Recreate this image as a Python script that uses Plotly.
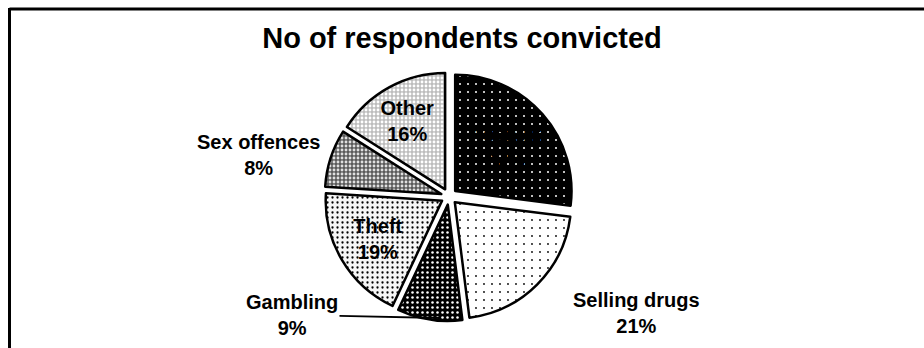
import plotly.graph_objects as go

labels = ["Assault", "Selling drugs", "Gambling", "Theft", "Sex offences", "Other"]
values = [27, 21, 9, 19, 8, 16]
positions = ["inside", "none", "none", "inside", "none", "inside"]
base_colors = ["#000000", "#ffffff", "#000000", "#f6f6f6", "#5a5a5a", "#bdbdbd"]
dot_colors = ["#ffffff", "#000000", "#ffffff", "#000000", "#e0e0e0", "#ffffff"]
dot_sizes = [8, 8, 5, 5, 4, 4]
dot_solid = [0.05, 0.04, 0.2, 0.16, 0.4, 0.4]

# outside label placement (pixels) for slices whose label sits outside
outside_idx = [1, 2, 4]
outside_xy = {1: (636, 313), 2: (292, 315), 4: (258, 155)}
leader_to = {2: (440, 318)}

W, H = 924, 348
top_px, bot_px = 72, 321

fig = go.Figure(go.Pie(
    labels=labels,
    values=values,
    sort=False,
    direction="clockwise",
    rotation=0,
    pull=[0.07] * 6,
    textposition=positions,
    texttemplate="<b>%{label}<br>%{value}%</b>",
    insidetextorientation="horizontal",
    textfont=dict(family="Liberation Sans, Arial", size=20, color="#000000"),
    marker=dict(
        colors=base_colors,
        line=dict(color="#000000", width=2.5),
        pattern=dict(shape=["."] * 6, fgcolor=dot_colors, bgcolor=base_colors,
                     size=dot_sizes, solidity=dot_solid, fillmode="replace"),
    ),
    domain=dict(x=[0, 0.972], y=[(H - bot_px) / H, (H - top_px) / H]),
    automargin=False,
    showlegend=False,
    hoverinfo="skip",
))

annotations = []
for i in outside_idx:
    tx, ty = outside_xy[i]
    txt = f"<b>{labels[i]}<br>{values[i]}%</b>"
    font = dict(family="Liberation Sans, Arial", size=20, color="#000000")
    if i in leader_to:
        hx, hy = leader_to[i]
        annotations.append(dict(
            text=txt, xref="paper", yref="paper", x=hx / W, y=(H - hy) / H,
            showarrow=True, arrowhead=0, arrowwidth=1.8, arrowcolor="black",
            ax=tx - hx, ay=ty - hy, font=font, align="center"))
    else:
        annotations.append(dict(
            text=txt, xref="paper", yref="paper", x=tx / W, y=(H - ty) / H,
            xanchor="center", yanchor="middle", showarrow=False, font=font,
            align="center"))

fig.update_layout(
    width=W, height=H,
    autosize=False,
    margin=dict(l=0, r=0, t=0, b=0, autoexpand=False),
    paper_bgcolor="white",
    plot_bgcolor="white",
    showlegend=False,
    title=dict(text="<b>No of respondents convicted</b>", x=0.5, xanchor="center",
               y=(H - 38) / H, yanchor="middle", automargin=False,
               font=dict(family="Liberation Sans, Arial", size=29, color="#000000")),
    annotations=annotations,
    shapes=[
        dict(type="line", xref="paper", yref="paper", x0=9.5 / W, x1=1.0,
             y0=(H - 9) / H, y1=(H - 9) / H, line=dict(color="black", width=3)),
        dict(type="line", xref="paper", yref="paper", x0=9.5 / W, x1=9.5 / W,
             y0=(H - 8) / H, y1=0, line=dict(color="black", width=3)),
    ],
)

fig.write_html("out.html")
